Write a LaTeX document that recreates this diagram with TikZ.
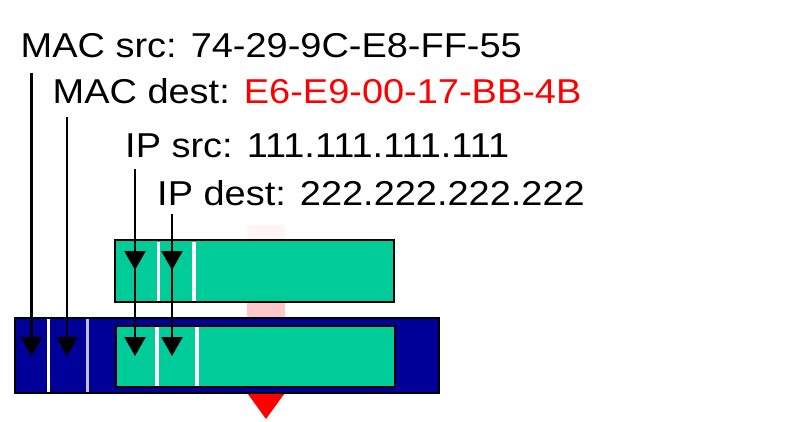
\documentclass[tikz,border=0pt]{standalone}
\usepackage{fontspec}
\setmainfont{Liberation Sans}[FakeStretch=1.1]
\usetikzlibrary{arrows.meta}
\definecolor{ipgreen}{RGB}{0,204,153}
\definecolor{macblue}{RGB}{0,0,153}
\definecolor{destred}{RGB}{255,0,0}

\begin{document}
\begin{tikzpicture}[x=1pt,y=-1pt,
  hdr/.style={anchor=base west,inner sep=0pt,font=\fontsize{34.5}{40}\selectfont},
  ptr/.style={line width=2.2pt,-{Triangle[length=19pt,width=21pt]}},
  sep/.style={white,line width=3.5pt}]
\useasboundingbox (0,0) rectangle (811,421);

% header fields
\node[hdr] (macsrc) at (20.5,57) {MAC src: 74-29-9C-E8-FF-55};
\node[hdr] (macdst) at (52.5,103) {MAC dest: \textcolor{destred}{E6-E9-00-17-BB-4B}};
\node[hdr] (ipsrc) at (125,157) {IP src: 111.111.111.111};
\node[hdr] (ipdst) at (157,205) {IP dest: 222.222.222.222};

% move arrow (behind the packets)
\fill[red!4] (247,225) rectangle (285,240);
\fill[red!22] (247,300) rectangle (285,320);
\fill[destred] (245,390) -- (287,390) -- (266,419) -- cycle;

% datagram
\draw[line width=2.2pt,fill=ipgreen] (115,240) rectangle (394,302);
\draw[sep] (158.5,241.5) -- (158.5,300.5);
\draw[sep] (194,241.5) -- (194,300.5);

% frame with datagram inside
\draw[line width=2.2pt,fill=macblue] (15,318) rectangle (439,393);
\draw[sep] (48.5,319) -- (48.5,392);
\draw[white!75!macblue,line width=3pt] (87,319) -- (87,392);
\draw[line width=1.5pt,fill=ipgreen] (116,326) rectangle (395,387);
\draw[sep] (157,327) -- (157,386);
\draw[sep] (197,327) -- (197,386);

% field pointers
\coordinate (macsrcTop) at (31.5,73);
\coordinate (macdstTop) at (67,117);
\coordinate (ipsrcTop) at (135,169);
\coordinate (ipdstTop) at (172,214);
\coordinate (macsrcTip) at (31.5,356);
\coordinate (macdstTip) at (67,356);
\coordinate (ipsrcTip) at (135,356);
\coordinate (ipdstTip) at (172,356);
\coordinate (ipsrcMid) at (135,270);
\coordinate (ipdstMid) at (172,270);

\draw[ptr] (macsrcTop) -- (macsrcTip);
\draw[ptr] (macdstTop) -- (macdstTip);
\draw[ptr] (ipsrcTop) -- (ipsrcTip);
\draw[ptr] (ipdstTop) -- (ipdstTip);
\draw[ptr] (ipsrcTop) -- (ipsrcMid);
\draw[ptr] (ipdstTop) -- (ipdstMid);
\end{tikzpicture}
\end{document}
